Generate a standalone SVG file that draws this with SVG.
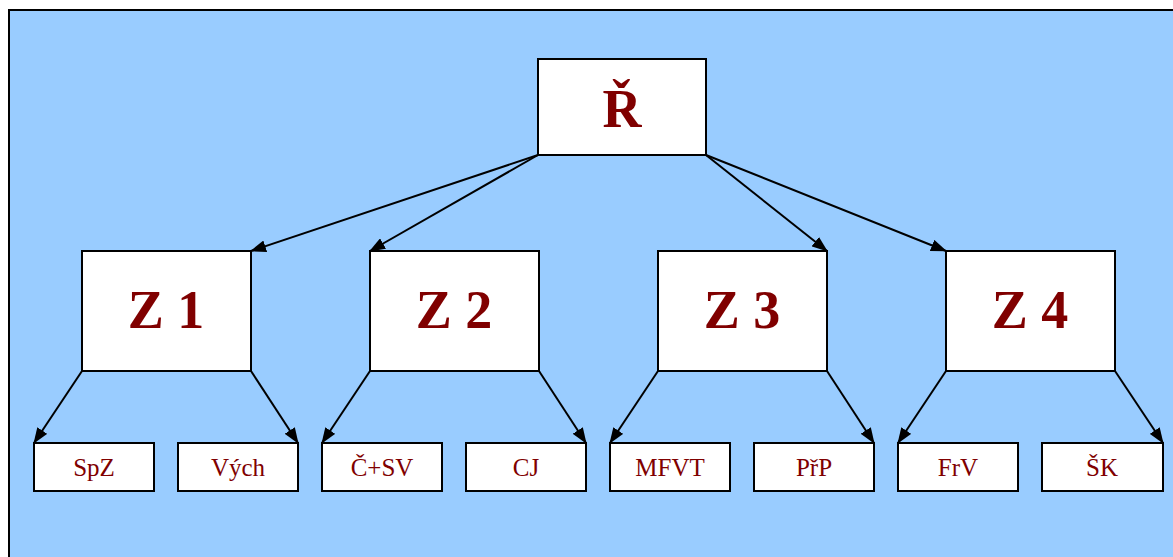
<svg xmlns="http://www.w3.org/2000/svg" width="1173" height="557" viewBox="0 0 1173 557">
<style>
.box{fill:#fff;stroke:#000;stroke-width:2}
.big{font-family:"Liberation Serif",serif;font-weight:bold;font-size:54px;fill:#800000;text-anchor:middle}
.small{font-family:"Liberation Serif",serif;font-size:25px;fill:#800000;text-anchor:middle}
.c{stroke:#000;stroke-width:2;fill:none;marker-end:url(#ah)}
</style>
<defs>
<marker id="ah" viewBox="0 0 16 12" refX="15" refY="6" markerWidth="16" markerHeight="12" markerUnits="userSpaceOnUse" orient="auto">
<path d="M0,0 L16,6 L0,12 z" fill="#000"/>
</marker>
</defs>
<rect x="0" y="0" width="1173" height="557" fill="#fff"/>
<rect x="9" y="10" width="1170" height="560" fill="#99ccff" stroke="#000" stroke-width="2"/>
<g id="connectors">
<line class="c" x1="538" y1="155" x2="251" y2="251"/>
<line class="c" x1="538" y1="155" x2="370" y2="251"/>
<line class="c" x1="706" y1="155" x2="827" y2="251"/>
<line class="c" x1="706" y1="155" x2="946" y2="251"/>
<line class="c" x1="82" y1="371" x2="34" y2="443"/>
<line class="c" x1="251" y1="371" x2="298" y2="443"/>
<line class="c" x1="370" y1="371" x2="322" y2="443"/>
<line class="c" x1="539" y1="371" x2="586" y2="443"/>
<line class="c" x1="658" y1="371" x2="610" y2="443"/>
<line class="c" x1="827" y1="371" x2="874" y2="443"/>
<line class="c" x1="946" y1="371" x2="898" y2="443"/>
<line class="c" x1="1115" y1="371" x2="1163" y2="443"/>
</g>
<g id="R"><rect class="box" x="538" y="59" width="168" height="96"/><text class="big" x="622" y="127">Ř</text></g>
<g id="Z1"><rect class="box" x="82" y="251" width="169" height="120"/><text class="big" x="166" y="328">Z 1</text></g>
<g id="Z2"><rect class="box" x="370" y="251" width="169" height="120"/><text class="big" x="454" y="328">Z 2</text></g>
<g id="Z3"><rect class="box" x="658" y="251" width="169" height="120"/><text class="big" x="742" y="328">Z 3</text></g>
<g id="Z4"><rect class="box" x="946" y="251" width="169" height="120"/><text class="big" x="1030" y="328">Z 4</text></g>
<g id="SpZ"><rect class="box" x="34" y="443" width="120" height="48"/><text class="small" x="94" y="476">SpZ</text></g>
<g id="Vych"><rect class="box" x="178" y="443" width="120" height="48"/><text class="small" x="238" y="476">Vých</text></g>
<g id="CSV"><rect class="box" x="322" y="443" width="120" height="48"/><text class="small" x="382" y="476">Č+SV</text></g>
<g id="CJ"><rect class="box" x="466" y="443" width="120" height="48"/><text class="small" x="526" y="476">CJ</text></g>
<g id="MFVT"><rect class="box" x="610" y="443" width="120" height="48"/><text class="small" x="670" y="476">MFVT</text></g>
<g id="PrP"><rect class="box" x="754" y="443" width="120" height="48"/><text class="small" x="814" y="476">PřP</text></g>
<g id="FrV"><rect class="box" x="898" y="443" width="120" height="48"/><text class="small" x="958" y="476">FrV</text></g>
<g id="SK"><rect class="box" x="1042" y="443" width="121" height="48"/><text class="small" x="1102" y="476">ŠK</text></g>
</svg>
